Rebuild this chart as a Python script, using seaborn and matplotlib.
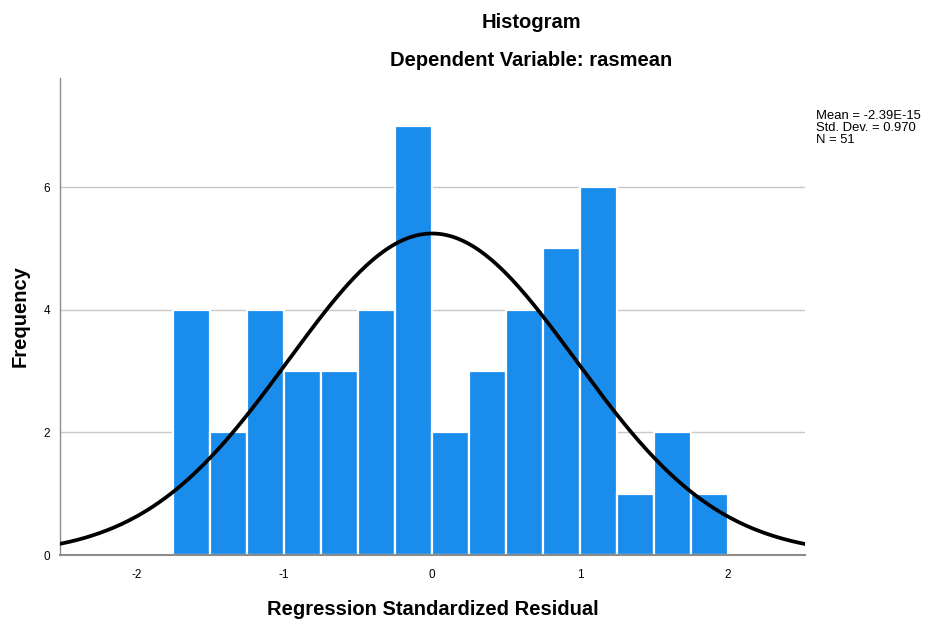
import numpy as np
import pandas as pd
import matplotlib
matplotlib.use("Agg")
import matplotlib.pyplot as plt
import seaborn as sns

# Histogram bins of the standardized residuals and their frequencies
bin_edges = [-1.75, -1.5, -1.25, -1.0, -0.75, -0.5, -0.25, 0.0,
             0.25, 0.5, 0.75, 1.0, 1.25, 1.5, 1.75, 2.0]
frequencies = [4, 2, 4, 3, 3, 4, 7, 2, 3, 4, 5, 6, 1, 2, 1]

# Summary statistics of the residuals
resid_mean = -2.39e-15
resid_std = 0.970
n_obs = 51

y_ticks = [0, 2, 4, 6]
x_ticks = [-2, -1, 0, 1, 2]

sns.set_theme(style="white")
plt.rcParams["font.family"] = ["Liberation Sans", "DejaVu Sans"]
plt.rcParams["text.color"] = "black"
plt.rcParams["axes.labelcolor"] = "black"

fig = plt.figure(figsize=(9.25, 6.19), dpi=100)
ax = fig.add_axes([60 / 925, 64 / 619, 745 / 925, 477 / 619])

edges = np.array(bin_edges)
centers = (edges[:-1] + edges[1:]) / 2
df = pd.DataFrame({"resid": centers, "count": frequencies})

for yv in y_ticks[1:]:
    ax.axhline(yv, color="#c8c8c8", linewidth=1.0, zorder=0)

sns.histplot(data=df, x="resid", weights="count", bins=list(bin_edges),
             ax=ax, color="#1a8ceb", alpha=1.0, edgecolor="white",
             linewidth=1.6, zorder=2)

# Normal curve scaled to counts per bin
bin_width = edges[1] - edges[0]
xs = np.linspace(-2.515, 2.52, 400)
ys = n_obs * bin_width / (resid_std * np.sqrt(2 * np.pi)) * \
    np.exp(-0.5 * ((xs - resid_mean) / resid_std) ** 2)
sns.lineplot(x=xs, y=ys, ax=ax, color="black", linewidth=2.7, zorder=3)

ax.set_xlim(-2.515, 2.52)
ax.set_ylim(0, 7.78)
ax.set_xticks(x_ticks)
ax.set_xticklabels([str(t) for t in x_ticks])
ax.set_yticks(y_ticks)
ax.set_yticklabels([str(t) for t in y_ticks])
ax.tick_params(axis="both", length=0, labelsize=8.5, colors="black")
ax.tick_params(axis="x", pad=10)
ax.tick_params(axis="y", pad=7)
ax.grid(False)

for side in ["top", "right"]:
    ax.spines[side].set_visible(False)
ax.spines["left"].set_color("#8c8c8c")
ax.spines["left"].set_linewidth(1.0)
ax.spines["bottom"].set_color("#8c8c8c")
ax.spines["bottom"].set_linewidth(1.5)

ax.set_xlabel("Regression Standardized Residual", fontsize=14.5,
              fontweight="bold", labelpad=14, color="black")
ax.set_ylabel("Frequency", fontsize=14.5, fontweight="bold", labelpad=10,
              color="black")

fig.text(531 / 925, 1 - 22 / 619, "Histogram", ha="center", va="center",
         fontsize=14.5, fontweight="bold", color="black")
fig.text(531 / 925, 1 - 60 / 619, "Dependent Variable: rasmean",
         ha="center", va="center", fontsize=14.5, fontweight="bold",
         color="black")

stats_lines = [f"Mean = {resid_mean:.2E}".replace("E-0", "E-"),
               f"Std. Dev. = {resid_std:.3f}",
               f"N = {n_obs}"]
for i, line in enumerate(stats_lines):
    fig.text(816 / 925, 1 - (119 + 12 * i) / 619, line, ha="left",
             va="baseline", fontsize=9.4, color="black")

fig.savefig("out.png", dpi=100)
